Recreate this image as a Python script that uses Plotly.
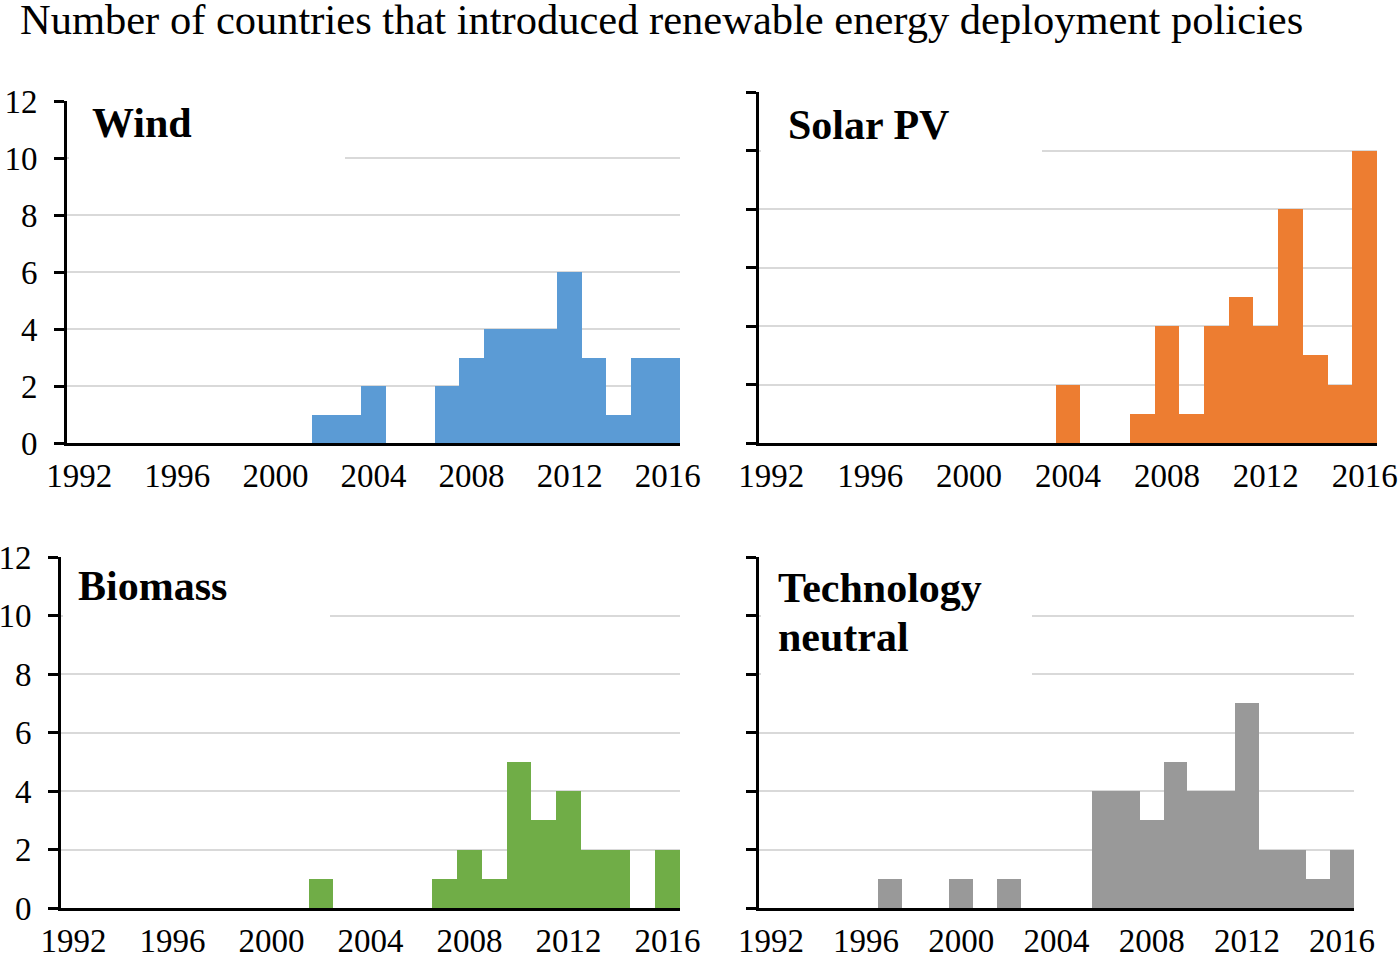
import plotly.graph_objects as go

years = list(range(1992, 2017))

wind = [0, 0, 0, 0, 0, 0, 0, 0, 0, 0, 1, 1, 2, 0, 0, 2, 3, 4, 4, 4, 6, 3, 1, 3, 3]
solar = [0, 0, 0, 0, 0, 0, 0, 0, 0, 0, 0, 0, 2, 0, 0, 1, 4, 1, 4, 5, 4, 8, 3, 2, 10]
biomass = [0, 0, 0, 0, 0, 0, 0, 0, 0, 0, 1, 0, 0, 0, 0, 1, 2, 1, 5, 3, 4, 2, 2, 0, 2]
tech_neutral = [0, 0, 0, 0, 0, 1, 0, 0, 1, 0, 1, 0, 0, 0, 4, 4, 3, 5, 4, 4, 7, 2, 2, 1, 2]

panel_names = [["Wind"], ["Solar PV"], ["Biomass"], ["Technology", "neutral"]]
panel_colors = ["#5B9BD5", "#ED7D31", "#70AD47", "#999999"]
series = [wind, solar, biomass, tech_neutral]

x_ticks = [1992, 1996, 2000, 2004, 2008, 2012, 2016]
y_ticks = [0, 2, 4, 6, 8, 10, 12]

title_text = "Number of countries that introduced renewable energy deployment policies"

W, H = 1400, 956
FONT = "Liberation Serif"

# plot-area pixel boxes: (left, right, top, bottom)
boxes = [(67, 680, 101, 443), (759, 1377, 92, 443), (61, 680, 557, 908), (759, 1354, 557, 908)]
label_pos = [(90, 98), (786, 100), (76, 561), (776, 563)]
line_step = 49
white_right = [345, 1042, 330, 1032]
white_bottom = [9, 9, 9, 7]
show_ylabels = [True, False, True, False]

fig = go.Figure()
layout = dict(
    template="none",
    width=W, height=H, margin=dict(l=0, r=0, t=0, b=0, autoexpand=False),
    paper_bgcolor="white", plot_bgcolor="white", showlegend=False, bargap=0,
    font=dict(family=FONT, color="black"),
)
annotations = []
shapes = []
for i in range(4):
    n = "" if i == 0 else str(i + 1)
    l, r, t, b = boxes[i]
    fig.add_trace(go.Bar(x=years, y=series[i], width=1, marker=dict(color=panel_colors[i], line=dict(width=0)),
                         xaxis="x" + n, yaxis="y" + n, hoverinfo="x+y"))
    layout["xaxis" + n] = dict(
        domain=[l / W, r / W], anchor="y" + n, range=[1991.5, 2016.5], automargin=False,
        tickmode="array", tickvals=x_ticks, ticktext=[str(v) for v in x_ticks],
        showline=True, linecolor="black", linewidth=3, ticks="", showgrid=False, zeroline=False,
        tickfont=dict(family=FONT, size=33, color="black"), ticklabelstandoff=1,
    )
    layout["yaxis" + n] = dict(
        domain=[1 - b / H, 1 - t / H], anchor="x" + n, range=[0, 12], automargin=False,
        tickmode="array", tickvals=y_ticks, ticktext=[str(v) for v in y_ticks],
        showline=True, linecolor="black", linewidth=3, ticks="outside", ticklen=10, tickwidth=3,
        tickcolor="black", showgrid=True, gridcolor="#d9d9d9", gridwidth=1.5, zeroline=False,
        showticklabels=show_ylabels[i], tickfont=dict(family=FONT, size=33, color="black"),
        ticklabelstandoff=10,
    )
    # white label box hiding gridlines
    y_bottom_px = b - (b - t) * white_bottom[i] / 12
    shapes.append(dict(type="rect", xref="paper", yref="paper", layer="above",
                       x0=(l + 2) / W, x1=white_right[i] / W, y0=1 - y_bottom_px / H, y1=1 - (t - 4) / H,
                       fillcolor="white", line=dict(width=0)))
    lx, ly = label_pos[i]
    for k, line in enumerate(panel_names[i]):
        annotations.append(dict(text="<b>" + line + "</b>", xref="paper", yref="paper",
                                x=lx / W, y=1 - (ly + k * line_step) / H, xanchor="left", yanchor="top",
                                align="left", showarrow=False,
                                font=dict(family=FONT, size=42, color="black")))

annotations.append(dict(text=title_text, xref="paper", yref="paper", x=18 / W, y=1 + 6 / H,
                        xanchor="left", yanchor="top", showarrow=False,
                        font=dict(family=FONT, size=42.5, color="black")))
layout["annotations"] = annotations
layout["shapes"] = shapes
fig.update_layout(**layout)
fig.write_html("out.html", config={"displayModeBar": False},
               post_script="document.body.style.margin='0';document.body.style.overflow='hidden';")
